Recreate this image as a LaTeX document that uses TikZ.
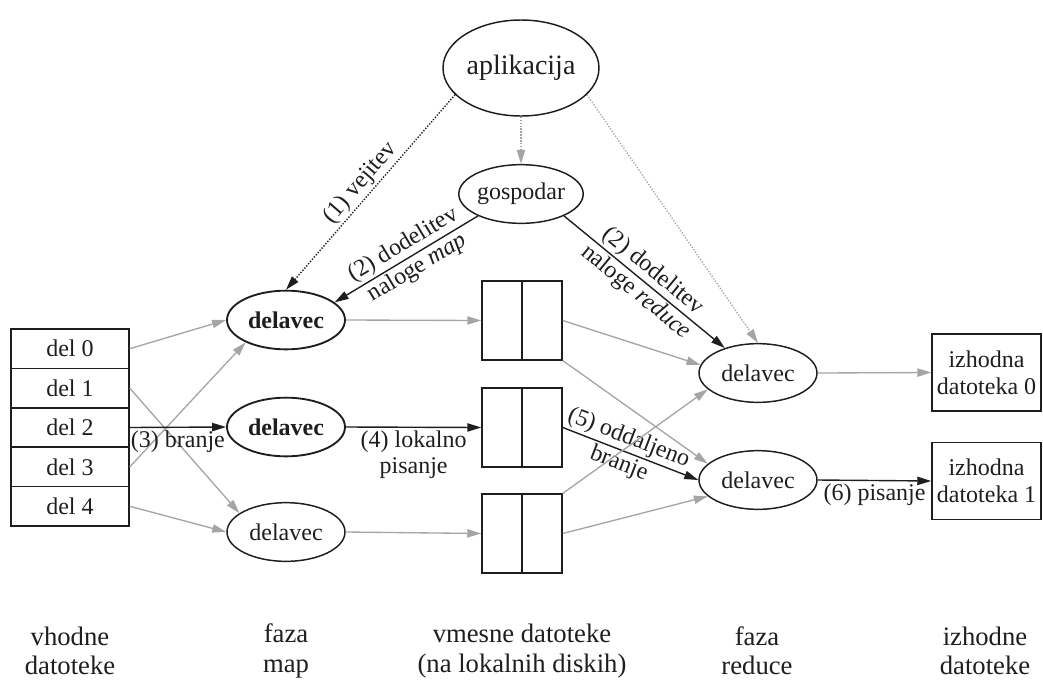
\documentclass[tikz,border=0pt]{standalone}
\usepackage{fontspec}
\setmainfont{Liberation Serif}
\usetikzlibrary{arrows.meta,shapes.geometric}
\definecolor{edgegray}{RGB}{165,165,165}
\definecolor{ink}{RGB}{30,30,30}

\begin{document}
\begin{tikzpicture}[x=0.75pt,y=-0.75pt,
  every node/.style={font=\fontsize{18}{20}\selectfont, inner sep=0pt, text=ink},
  oval/.style={ellipse, draw=ink, line width=1.1pt, minimum width=88.5pt, minimum height=44pt},
  boldoval/.style={oval, line width=1.4pt, font=\fontsize{18}{20}\selectfont\bfseries},
  partbox/.style={rectangle, draw=ink, line width=1.1pt, minimum width=88.5pt, minimum height=29.55pt},
  midfile/.style={rectangle, draw=ink, line width=1.1pt, minimum width=60pt, minimum height=59pt},
  outfile/.style={rectangle, draw=ink, line width=1.1pt, minimum width=81.75pt, minimum height=57.5pt, align=center},
  arrowtip/.style={-{Triangle[length=10.5pt,width=6.2pt]}},
  flow/.style={arrowtip, draw=edgegray, line width=1pt},
  ctrl/.style={arrowtip, draw=ink, line width=1.05pt},
  dotline/.style={dash pattern=on 1pt off 1.2pt},
  elabel/.style={inner sep=2pt},
  slabel/.style={sloped, inner sep=1.5pt},
  phase/.style={align=center, font=\fontsize{20}{22}\selectfont}
]
\useasboundingbox (0,0) rectangle (1043,679);

% application and master
\node[oval, minimum width=117pt, minimum height=72pt, font=\fontsize{21}{24}\selectfont] (apl) at (521,68) {aplikacija};
\node[oval] (gosp) at (521,194) {gospodar};

% input splits
\node[partbox] (p0) at (70,348.7) {del 0};
\node[partbox] (p1) at (70,388.1) {del 1};
\node[partbox] (p2) at (70,427.5) {del 2};
\node[partbox] (p3) at (70,466.9) {del 3};
\node[partbox] (p4) at (70,506.3) {del 4};

% map workers
\node[boldoval] (m1) at (286,320) {delavec};
\node[boldoval] (m2) at (286,427) {delavec};
\node[oval] (m3) at (286,532) {delavec};

% intermediate files on local disks
\node[midfile] (f1) at (522,320.5) {};
\node[midfile] (f2) at (522,427.5) {};
\node[midfile] (f3) at (522,533.5) {};
\draw[ink, line width=1.1pt] (f1.north) -- (f1.south);
\draw[ink, line width=1.1pt] (f2.north) -- (f2.south);
\draw[ink, line width=1.1pt] (f3.north) -- (f3.south);

% reduce workers
\node[oval] (r1) at (758,373) {delavec};
\node[oval] (r2) at (758,480) {delavec};

% output files
\node[outfile] (o0) at (986.5,372.5) {izhodna\\datoteka 0};
\node[outfile] (o1) at (986.5,481) {izhodna\\datoteka 1};

% phase captions
\node[phase] (c1) at (70,651) {vhodne\\datoteke};
\node[phase] (c2) at (286,651) {faza\\map};
\node[phase] (c3) at (522,651) {vmesne datoteke\\(na lokalnih diskih)};
\node[phase] (c4) at (757,651) {faza\\reduce};
\node[phase] (c5) at (985,651) {izhodne\\datoteke};

% forking the program
\draw[ctrl, dotline] (apl.202) -- node[slabel, above] {(1) vejitev} (m1.north);
\draw[flow, dotline] (apl.south) -- (gosp.north);
\draw[flow, dotline] (apl.338) -- (r1.north);

% task assignment
\draw[ctrl] (gosp.207) -- node[slabel, above, pos=0.47] {(2) dodelitev}
                          node[slabel, below, pos=0.47] {naloge \textit{map}} (m1.20);
\draw[ctrl] (gosp.333) -- node[slabel, above, pos=0.5] {(2) dodelitev}
                          node[slabel, below, pos=0.5] {naloge \textit{reduce}} (r1.143);

% reading the splits
\draw[flow] (p0.east) -- (m1.west);
\draw[flow] (p3.east) -- (m1.209);
\draw[flow] (p1.east) -- (m3.158);
\draw[flow] (p4.east) -- (m3.west);
\draw[ctrl] (p2.east) -- node[elabel, below] {(3) branje} (m2.west);

% local writes
\draw[flow] (m1.east) -- (f1.west);
\draw[ctrl] (m2.east) -- node[elabel, below, align=center] {(4) lokalno\\pisanje} (f2.west);
\draw[flow] (m3.east) -- (f3.west);

% remote reads
\draw[flow] (f1.east) -- (r1.172);
\draw[flow] (f1.south east) -- (r2.162);
\draw[ctrl] (f2.east) -- node[slabel, above, pos=0.45] {(5) oddaljeno}
                         node[slabel, below, pos=0.45] {branje} (r2.west);
\draw[flow] (f3.north east) -- (r1.198);
\draw[flow] (f3.east) -- (r2.198);

% writing the output
\draw[flow] (r1.east) -- (o0.west);
\draw[ctrl] (r2.east) -- node[elabel, below] {(6) pisanje} (o1.west);
\end{tikzpicture}
\end{document}
